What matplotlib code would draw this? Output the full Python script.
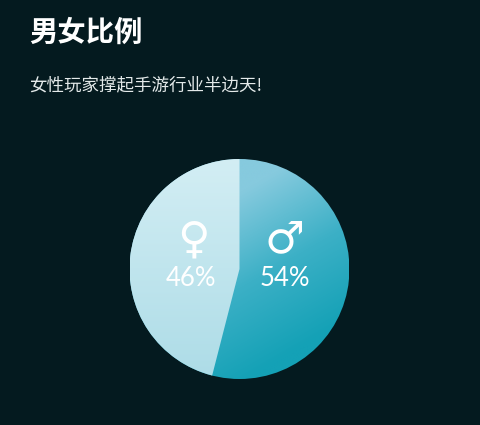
import numpy as np
import matplotlib
matplotlib.use("Agg")
import matplotlib.pyplot as plt
from matplotlib.colors import LinearSegmentedColormap
from matplotlib.patches import Circle

labels = ["男", "女"]
values = [54, 46]
symbols = ["♂", "♀"]
title = "男女比例"
subtitle = "女性玩家撑起手游行业半边天!"

W, H = 480, 425
BG = "#041a1f"
plt.rcParams["font.family"] = ["Noto Sans CJK SC", "DejaVu Sans"]

fig = plt.figure(figsize=(W / 100, H / 100), dpi=100, facecolor=BG)
bgax = fig.add_axes([0, 0, 1, 1])
bgax.set_xlim(0, W)
bgax.set_ylim(H, 0)
bgax.axis("off")

cx, cy, R = 239.5, 269, 110
ax = fig.add_axes([(cx - R) / W, 1 - (cy + R) / H, 2 * R / W, 2 * R / H])
ax.patch.set_alpha(0)
wedges, _ = ax.pie(values, startangle=90, counterclock=False, radius=1.0,
                   colors=["none", "none"])
for w in wedges:
    w.set_edgecolor("none")
ax.set_xlim(-1, 1)
ax.set_ylim(-1, 1)

xx, yy = np.meshgrid(np.linspace(-1, 1, 400), np.linspace(1, -1, 400))
shade_m = np.clip((xx * 0.5 - yy * 0.87 + 0.6) / 1.5, 0, 1)
shade_f = np.clip((-yy + 1) / 2, 0, 1)
cmap_m = LinearSegmentedColormap.from_list("m", ["#86cade", "#3cb0c6", "#14a1b6"])
cmap_f = LinearSegmentedColormap.from_list("f", ["#d3eef4", "#addce7"])

disk = Circle((0, 0), 1.0, transform=ax.transData)
im_m = ax.imshow(shade_m, extent=[-1, 1, -1, 1], cmap=cmap_m, vmin=0, vmax=1,
                 aspect="auto", zorder=1)
im_m.set_clip_path(disk)
im_f = ax.imshow(shade_f, extent=[-1, 1, -1, 1], cmap=cmap_f, vmin=0, vmax=1,
                 aspect="auto", zorder=2)
im_f.set_clip_path(wedges[1])
ax.set_xlim(-1, 1)
ax.set_ylim(-1, 1)

bgax.text(29, 33, title, color="white", fontsize=20.4, fontweight="bold",
          va="center", ha="left")
bgax.text(29, 85, subtitle, color="#e4eaea", fontsize=12.6, va="center", ha="left")

top = fig.add_axes([0, 0, 1, 1])
top.set_xlim(0, W)
top.set_ylim(H, 0)
top.axis("off")
top.patch.set_alpha(0)
pct_x = [284.5, 191]
sym_pos = [(284.5, 240), (193, 240)]
for v, s, px, (sx, sy) in zip(values, symbols, pct_x, sym_pos):
    top.text(px, 278.5, f"{v}%", color="white", fontsize=18.5, ha="center", va="center",
             fontfamily="Lato")
    top.text(sx, sy, s, color="white", fontsize=32, ha="center", va="center",
             fontfamily="DejaVu Sans")

fig.savefig("out.png", dpi=100, facecolor=BG)
